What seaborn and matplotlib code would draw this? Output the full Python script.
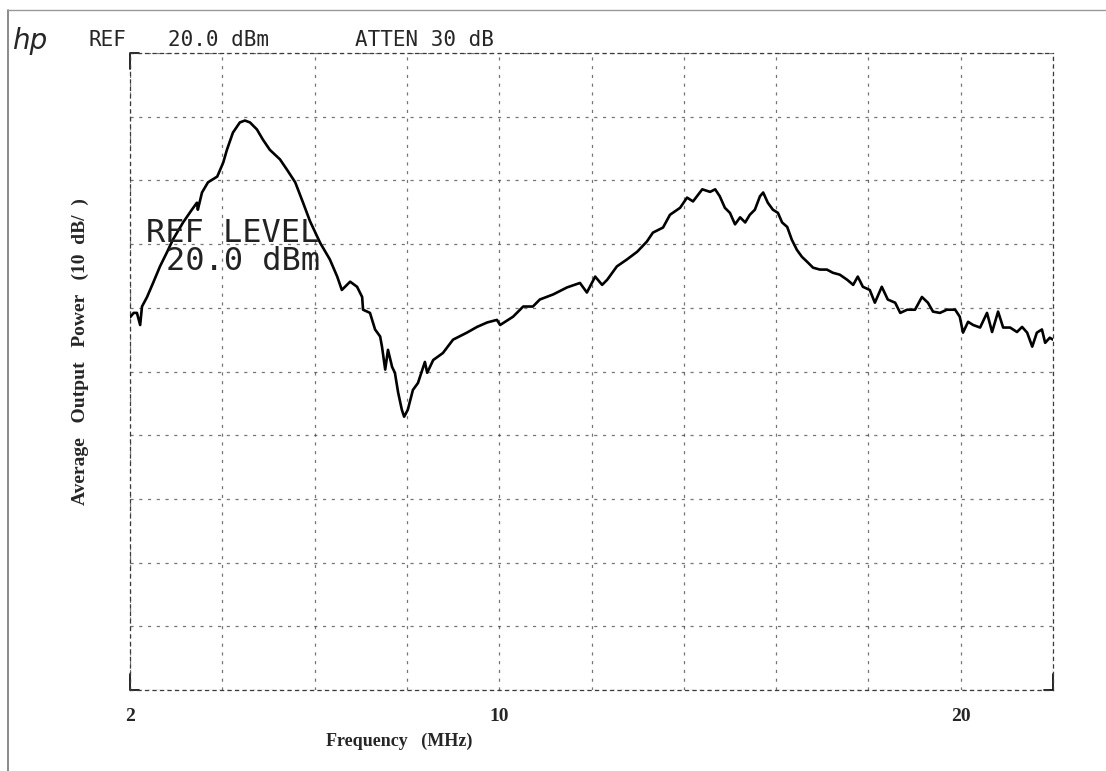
import numpy as np
import pandas as pd
import matplotlib
matplotlib.use("Agg")
import matplotlib.pyplot as plt
from matplotlib.lines import Line2D
import seaborn as sns

# Swept spectrum trace: frequency (MHz) and average output power (dBm)
freq_mhz = [
    2.00, 2.08, 2.15, 2.22, 2.26, 2.37, 2.50, 2.65, 2.80, 2.93,
    3.15, 3.34, 3.45, 3.47, 3.56, 3.69, 3.89, 4.02, 4.10, 4.23,
    4.38, 4.49, 4.60, 4.75, 4.88, 5.03, 5.25, 5.40, 5.58, 5.75,
    5.90, 6.12, 6.33, 6.49, 6.59, 6.77, 6.92, 7.03, 7.05, 7.20,
    7.31, 7.42, 7.46, 7.53, 7.59, 7.68, 7.74, 7.81, 7.89, 7.94,
    8.02, 8.13, 8.24, 8.39, 8.44, 8.57, 8.78, 9.00, 9.30, 9.52,
    9.74, 9.95, 10.02, 10.30, 10.52, 10.73, 10.88, 11.17, 11.47, 11.75,
    11.90, 12.08, 12.23, 12.34, 12.55, 12.77, 12.99, 13.20, 13.33, 13.55,
    13.70, 13.92, 14.07, 14.20, 14.40, 14.57, 14.68, 14.78, 14.89, 15.00,
    15.11, 15.22, 15.33, 15.43, 15.54, 15.65, 15.72, 15.82, 15.93, 16.04,
    16.13, 16.24, 16.34, 16.45, 16.56, 16.69, 16.80, 16.95, 17.10, 17.23,
    17.38, 17.54, 17.67, 17.77, 17.88, 18.03, 18.14, 18.29, 18.42, 18.58,
    18.69, 18.84, 19.01, 19.16, 19.29, 19.40, 19.55, 19.70, 19.88, 19.98,
    20.05, 20.16, 20.27, 20.42, 20.57, 20.68, 20.81, 20.92, 21.07, 21.22,
    21.33, 21.44, 21.55, 21.65, 21.76, 21.83, 21.93, 22.00,
]
power_dbm = [
    -21.5, -20.8, -20.8, -22.7, -19.8, -18.3, -16.1, -13.5, -11.3, -9.3,
    -6.6, -4.6, -3.5, -4.6, -1.9, -0.3, 0.6, 2.8, 4.8, 7.5,
    9.1, 9.4, 9.1, 8.0, 6.4, 4.8, 3.3, 1.7, -0.3, -3.5,
    -6.4, -9.8, -12.4, -15.1, -17.2, -15.9, -16.7, -18.3, -20.3, -20.8,
    -23.4, -24.5, -26.1, -29.7, -26.6, -29.3, -30.2, -33.3, -36.0, -37.1,
    -36.0, -32.9, -31.8, -28.5, -30.2, -28.2, -27.1, -25.0, -23.9, -23.0,
    -22.3, -21.9, -22.7, -21.4, -19.8, -19.8, -18.7, -17.9, -16.8, -16.1,
    -17.6, -15.1, -16.4, -15.6, -13.5, -12.4, -11.2, -9.6, -8.2, -7.4,
    -5.4, -4.3, -2.7, -3.3, -1.4, -1.8, -1.4, -2.5, -4.3, -5.1,
    -6.9, -5.8, -6.6, -5.4, -4.6, -2.5, -1.9, -3.5, -4.6, -5.1,
    -6.6, -7.3, -9.3, -10.9, -12.0, -12.9, -13.7, -14.0, -14.0, -14.5,
    -14.8, -15.6, -16.4, -15.1, -16.7, -17.2, -19.2, -16.7, -18.7, -19.2,
    -20.8, -20.3, -20.3, -18.3, -19.2, -20.6, -20.8, -20.3, -20.3, -21.4,
    -23.9, -22.2, -22.7, -23.1, -20.8, -23.8, -20.6, -23.1, -23.1, -23.8,
    -23.0, -23.9, -26.1, -23.9, -23.4, -25.5, -24.7, -25.0,
]
assert len(freq_mhz) == len(power_dbm)

# Graticule: 2 MHz/div horizontally, 10 dB/div from a +20 dBm reference level
freq_ticks = [2, 4, 6, 8, 10, 12, 14, 16, 18, 20, 22]
freq_tick_labels = ["2", "", "", "", "10", "", "", "", "", "20", ""]
ref_level_dbm = 20
db_per_div = 10
n_divs = 10
power_ticks = [ref_level_dbm - db_per_div * k for k in range(n_divs + 1)][::-1]

header_ref = "REF"
header_level = "20.0 dBm"
header_atten = "ATTEN 30 dB"
ref_note = ["REF LEVEL", "20.0 dBm"]
x_label = "Frequency   (MHz)"
y_label = "Average   Output   Power   (10  dB/  )"

sns.set_theme(style="white")
plt.rcParams["font.family"] = ["DejaVu Sans"]

W, H = 1106, 771
fig = plt.figure(figsize=(W / 100, H / 100), dpi=100)
fig.patch.set_facecolor("white")


def fx(px):
    return px / W


def fy(py):
    return 1 - py / H


ax = fig.add_axes([fx(130), fy(690), fx(1053) - fx(130), fy(53) - fy(690)])
ax.set_facecolor("white")

df = pd.DataFrame({"freq": freq_mhz, "power": power_dbm})
sns.lineplot(data=df, x="freq", y="power", ax=ax, estimator=None, sort=False,
             color="black", linewidth=1.9, zorder=5)

ax.set_xlim(freq_ticks[0], freq_ticks[-1])
ax.set_ylim(power_ticks[0], power_ticks[-1])
ax.set_xticks(freq_ticks)
ax.set_xticklabels(freq_tick_labels, family="Liberation Serif",
                   fontweight="bold", fontsize=14)
ax.set_yticks(power_ticks)
ax.set_yticklabels([])
ax.tick_params(axis="both", length=0, pad=13)
ax.set_xlabel("")
ax.set_ylabel("")

# dotted plotter graticule
ax.grid(True, color="#3a3a3a", linestyle=(0, (2.5, 4.5)), linewidth=0.9, alpha=0.7)
for sp in ax.spines.values():
    sp.set_visible(True)
    sp.set_color("#3a3a3a")
    sp.set_linestyle((0, (2.5, 3.5)))
    sp.set_linewidth(0.9)

# solid corner brackets of the graticule
corner_kw = dict(transform=ax.transAxes, color="black", linewidth=1.2, clip_on=False)
ax.plot([0, 0, 0.01], [0.975, 1, 1], **corner_kw)
ax.plot([0, 0, 0.01], [0.025, 0, 0], **corner_kw)
ax.plot([0.99, 1, 1], [0, 0, 0.025], **corner_kw)

# header written by the analyzer's plotter
mono = "DejaVu Sans Mono"
fig.text(fx(30), fy(41), "hp", fontsize=20, fontstyle="italic",
         family="DejaVu Sans", fontweight="light", ha="center", va="center")
fig.text(fx(88), fy(40), header_ref, fontsize=15, family=mono, ha="left", va="center")
fig.text(fx(168), fy(40), header_level, fontsize=15, family=mono, ha="left", va="center")
fig.text(fx(355), fy(40), header_atten, fontsize=15, family=mono, ha="left", va="center")

fig.text(fx(146), fy(233), ref_note[0], fontsize=23, family=mono,
         ha="left", va="center", color="#222222", zorder=6)
fig.text(fx(166), fy(262), ref_note[1], fontsize=23, family=mono,
         ha="left", va="center", color="#222222", zorder=6)

# axis titles
fig.text(fx(399), fy(741), x_label, fontsize=13, family="Liberation Serif",
         fontweight="bold", ha="center", va="center")
fig.text(fx(80), fy(352), y_label, fontsize=14, family="Liberation Serif",
         fontweight="bold", ha="center", va="center", rotation=90)

# page border
fig.add_artist(Line2D([fx(8), fx(8)], [fy(10), 0], transform=fig.transFigure,
                      color="#777777", linewidth=1.2))
fig.add_artist(Line2D([fx(8), 1], [fy(10), fy(10)], transform=fig.transFigure,
                      color="#999999", linewidth=1.0))

fig.savefig("out.png", dpi=100, facecolor="white")
